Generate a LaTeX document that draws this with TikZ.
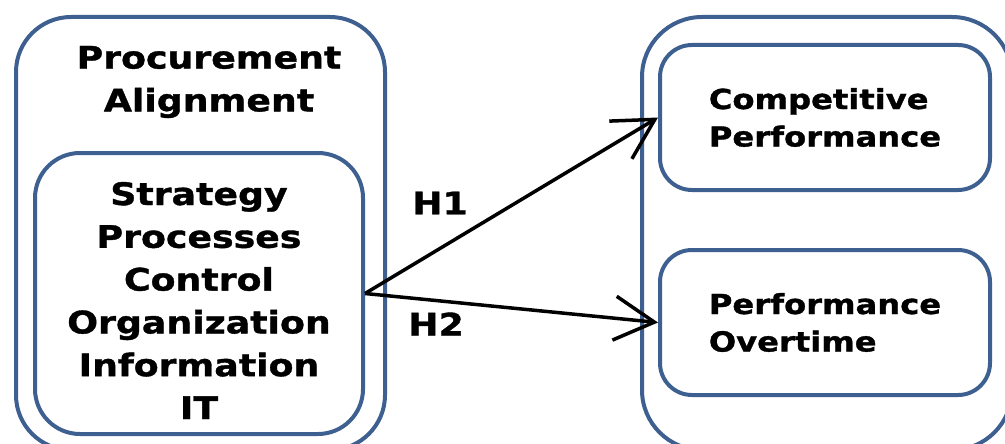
\documentclass[tikz,border=0pt]{standalone}
\usepackage{fontspec}
\setmainfont{DejaVu Sans}[BoldFont={DejaVu Sans Bold}, BoldFeatures={FakeStretch=1.17, FakeBold=1.2}]
\usetikzlibrary{arrows.meta}
\definecolor{frame}{RGB}{62,96,144}
\tikzset{
  box/.style={draw=frame, line width=4pt, rounded corners=#1, inner sep=0pt},
  big/.style={font=\fontsize{31}{42.8}\selectfont\bfseries, align=center},
  mid/.style={font=\fontsize{27.5}{37.5}\selectfont\bfseries},
  link/.style={line width=3.5pt, -{Straight Barb[length=40pt,width=44pt]}},
}
\begin{document}
\begin{tikzpicture}[x=1pt,y=-1pt]
\useasboundingbox (0,0) rectangle (1005,444);
\begin{scope}
\clip (0,0) rectangle (1005,444);
\node[box=55pt, minimum width=369pt, minimum height=433pt] (lout) at (200.5,233.5) {};
\node[box=60pt, minimum width=370pt, minimum height=433pt] (rout) at (827,233.5) {};
\end{scope}
\node[big] (title) at (209,82) {Procurement\\Alignment};
\node[box=45pt, minimum width=328pt, minimum height=281pt] (dims) at (199,293.5) {};
\node[big] (dimstext) at (199,300.5)
  {Strategy\\Processes\\Control\\Organization\\Information\\IT};
\node[box=32pt, mid, align=left, minimum width=330pt, minimum height=145pt] (comp) at (825,117.5)
  {Competitive\\Performance};
\node[box=32pt, mid, align=left, minimum width=330pt, minimum height=145pt] (over) at (825,322.5)
  {Performance\\Overtime};
\draw[link] (dims.east) -- (comp.west);
\draw[link] (dims.east) -- (over.west);
\node[big] (h1) at (440,203) {H1};
\node[big] (h2) at (436,324) {H2};
\end{tikzpicture}
\end{document}
